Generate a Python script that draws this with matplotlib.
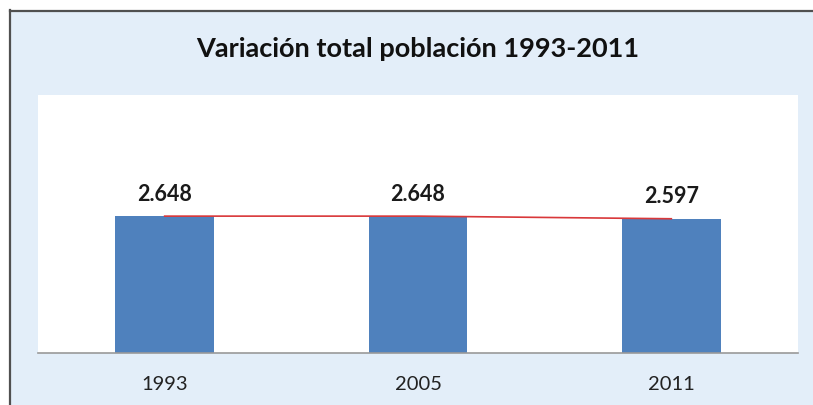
import matplotlib
matplotlib.use("Agg")
import matplotlib.pyplot as plt
from matplotlib.lines import Line2D
from matplotlib.patches import Rectangle

years = ["1993", "2005", "2011"]
values = [2.648, 2.648, 2.597]
labels = ["2.648", "2.648", "2.597"]
title = "Variación total población 1993-2011"

plt.rcParams["font.family"] = ["Lato", "DejaVu Sans"]

W, H = 813, 405
fig = plt.figure(figsize=(W / 100, H / 100), dpi=100)
fig.patch.set_facecolor("white")

# light blue panel with dark border on top/left
fig.patches.append(Rectangle((10 / W, 0), 1, 1 - 11 / H, transform=fig.transFigure,
                             facecolor="#e3eef9", edgecolor="none", zorder=-2))
fig.lines.append(Line2D([9.5 / W, 9.5 / W], [0, 1 - 10 / H], transform=fig.transFigure,
                        color="#505050", lw=1.6, zorder=-1))
fig.lines.append(Line2D([9.5 / W, 1], [1 - 10.5 / H, 1 - 10.5 / H], transform=fig.transFigure,
                        color="#505050", lw=1.6, zorder=-1))

ax = fig.add_axes([38 / W, 1 - 352.5 / H, (798 - 38) / W, (352.5 - 95) / H])
ax.set_facecolor("white")

x = range(len(years))
ax.bar(x, values, width=0.39, color="#4f81bd", zorder=2)
ax.plot(x, values, color="#d9383a", lw=1.2, zorder=3)

for xi, v, lab in zip(x, values, labels):
    ax.annotate(lab, (xi, v), xytext=(0, 11), textcoords="offset points",
                ha="center", va="baseline", fontsize=15.5, fontweight="bold", color="#1a1a1a")

ax.set_xlim(-0.5, 2.5)
ax.set_ylim(0, 5)
ax.set_xticks(list(x))
ax.set_xticklabels(years, fontsize=14.5, color="#222222")
ax.tick_params(axis="x", length=0, pad=17)
ax.set_yticks([])
for side in ["top", "left", "right"]:
    ax.spines[side].set_visible(False)
ax.spines["bottom"].set_color("#999999")
ax.spines["bottom"].set_linewidth(1.2)

fig.text(417.5 / W, 1 - 57 / H, title, ha="center", va="baseline",
         fontsize=19.5, fontweight="bold", color="#111111")

fig.savefig("out.png", dpi=100)
